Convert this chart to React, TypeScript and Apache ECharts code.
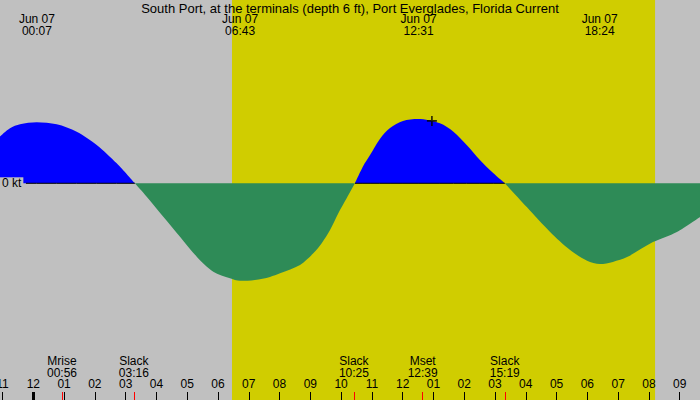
import React, { useEffect, useRef } from "react";
import * as echarts from "echarts";

// Time in hours after midnight, Jun 07 (negative = Jun 06)
const HOURS = [
  -1.082, -0.757, -0.432, 0.11, 0.76, 1.41, 2.06, 2.71, 3.3, 3.684, 4.224, 4.766, 5.31, 5.848, 6.39,
  6.716, 7.2, 7.69, 8.015, 8.665, 9.097, 9.37, 9.64, 9.91, 10.18, 10.45, 10.71, 10.94, 11.26, 11.59,
  12.01, 12.5, 13.21, 13.65, 14.08, 14.51, 14.94, 15.32, 16.04, 16.79, 17.44, 17.99, 18.41, 18.83,
  19.29, 20.13, 20.91, 21.66,
];
// Current speed in knots (flood positive, ebb negative)
const CURRENT_KT = [
  0.78, 0.917, 0.983, 1.017, 0.983, 0.86, 0.64, 0.333, 0, -0.223, -0.557, -0.89, -1.223, -1.473, -1.583,
  -1.625, -1.61, -1.56, -1.5, -1.36, -1.167, -1.0, -0.78, -0.5, -0.25, 0, 0.28, 0.47, 0.74, 0.92,
  1.04, 1.07, 1.0, 0.86, 0.64, 0.39, 0.17, 0, -0.4, -0.81, -1.11, -1.29, -1.345, -1.31,
  -1.23, -0.98, -0.81, -0.56,
];

const TITLE = "South Port, at the terminals (depth 6 ft), Port Everglades, Florida Current";
const DATE_LABEL = "Jun 07";
const MAX_TIMES = [0 + 7 / 60, 6 + 43 / 60, 12 + 31 / 60, 18 + 24 / 60];
const EVENT_NAMES = ["Mrise", "Slack", "Slack", "Mset", "Slack"];
const EVENT_TIMES = [0 + 56 / 60, 3 + 16 / 60, 10 + 25 / 60, 12 + 39 / 60, 15 + 19 / 60];
const HOUR_TICKS = [-1, 0, 1, 2, 3, 4, 5, 6, 7, 8, 9, 10, 11, 12, 13, 14, 15, 16, 17, 18, 19, 20, 21];
const MIDNIGHT = [0];
const SUNRISE = 6.455;
const SUNSET = 20.2;
const NOW_MARK = [12.95, 1.04];
const ZERO_LINE_START = -0.24;

const X_MIN = -1.082;
const X_MAX = 21.66;
const Y_MAX = 3.055;
const Y_MIN = -3.612;

const FONT = "'Liberation Sans', Arial, sans-serif";

function pad(n: number) {
  return n < 10 ? "0" + n : "" + n;
}
function fmtClock(h: number) {
  const m = Math.round(h * 60);
  const hh = Math.floor(m / 60);
  return pad(hh) + ":" + pad(m - hh * 60);
}
function fmtHour(v: number) {
  let r = ((Math.round(v) % 12) + 12) % 12;
  if (r === 0) r = 12;
  return pad(r);
}
function findIdx(arr: number[], v: number) {
  let best = 0;
  for (let i = 0; i < arr.length; i++) if (Math.abs(arr[i] - v) < Math.abs(arr[best] - v)) best = i;
  return best;
}

export default function App() {
  const ref = useRef<HTMLDivElement>(null);
  useEffect(() => {
    if (!ref.current) return;
    const chart = echarts.init(ref.current, undefined, { renderer: "svg" });
    const flood = HOURS.map((h, i) => [h, CURRENT_KT[i] >= 0 ? CURRENT_KT[i] : null]);
    const ebb = HOURS.map((h, i) => [h, CURRENT_KT[i] <= 0 ? CURRENT_KT[i] : null]);
    // zero reference line, visible beneath the flood areas only (ebb covers it in the reference)
    const zeroLine: any[] = [[ZERO_LINE_START, 0]];
    HOURS.forEach((h, i) => {
      if (h > ZERO_LINE_START) zeroLine.push([h, CURRENT_KT[i] >= 0 ? 0 : null]);
    });
    const baseX = {
      type: "value",
      min: X_MIN,
      max: X_MAX,
      gridIndex: 0,
      z: 10,
      axisLine: { show: false, onZero: false },
      splitLine: { show: false },
    };
    chart.setOption({
      animation: false,
      backgroundColor: "#c0c0c0",
      textStyle: { fontFamily: FONT },
      title: {
        text: TITLE,
        left: "center",
        top: 2,
        padding: 0,
        z: 10,
        textStyle: { fontSize: 13, fontWeight: "normal", color: "#000", fontFamily: FONT },
      },
      grid: { left: 0, right: 0, top: 0, bottom: 0, containLabel: false, outerBoundsMode: "none" },
      xAxis: [
        {
          ...baseX,
          position: "bottom",
          axisTick: { show: true, inside: true, length: 8, customValues: HOUR_TICKS, lineStyle: { color: "#000", width: 1 } },
          axisLabel: {
            show: true,
            inside: true,
            margin: 10,
            customValues: HOUR_TICKS,
            formatter: (v: number) => fmtHour(v),
            color: "#000",
            fontSize: 12,
            fontFamily: FONT,
          },
        },
        {
          ...baseX,
          position: "bottom",
          axisTick: { show: true, inside: true, length: 8, customValues: EVENT_TIMES, lineStyle: { color: "#ff0000", width: 1 } },
          axisLabel: {
            show: true,
            inside: true,
            margin: 21,
            customValues: EVENT_TIMES,
            formatter: (v: number) => {
              const i = findIdx(EVENT_TIMES, v);
              return EVENT_NAMES[i] + "\n" + fmtClock(EVENT_TIMES[i]);
            },
            color: "#000",
            fontSize: 12,
            lineHeight: 12,
            fontFamily: FONT,
          },
        },
        {
          ...baseX,
          position: "bottom",
          axisTick: { show: true, inside: true, length: 8, customValues: MIDNIGHT, lineStyle: { color: "#000", width: 3 } },
          axisLabel: { show: false },
        },
        {
          ...baseX,
          position: "top",
          axisTick: { show: false },
          axisLabel: {
            show: true,
            inside: true,
            margin: 13,
            customValues: MAX_TIMES,
            formatter: (v: number) => DATE_LABEL + "\n" + fmtClock(MAX_TIMES[findIdx(MAX_TIMES, v)]),
            color: "#000",
            fontSize: 12,
            lineHeight: 12,
            fontFamily: FONT,
          },
        },
      ],
      yAxis: {
        type: "value",
        min: Y_MIN,
        max: Y_MAX,
        z: 10,
        axisLine: { show: false, onZero: false },
        splitLine: { show: false },
        axisTick: { show: false },
        axisLabel: {
          show: true,
          inside: true,
          margin: 0,
          customValues: [0],
          formatter: () => "0 kt",
          color: "#000",
          fontSize: 12,
          fontFamily: FONT,
          backgroundColor: "#c0c0c0",
          padding: [0, 2, 0, 2],
          lineHeight: 12,
        },
      },
      series: [
        {
          type: "line",
          data: [],
          z: 0,
          silent: true,
          markArea: {
            silent: true,
            itemStyle: { color: "#d0cd00", opacity: 1 },
            data: [[{ xAxis: SUNRISE }, { xAxis: SUNSET }]],
          },
        },
        {
          type: "line",
          data: ebb,
          smooth: 0.3,
          connectNulls: false,
          symbol: "none",
          z: 2,
          lineStyle: { width: 0 },
          areaStyle: { color: "#2e8b57", opacity: 1 },
          silent: true,
        },
        {
          type: "line",
          data: flood,
          smooth: 0.3,
          connectNulls: false,
          symbol: "none",
          z: 3,
          lineStyle: { width: 0 },
          areaStyle: { color: "#0000ff", opacity: 1 },
          silent: true,
        },
        {
          type: "line",
          data: zeroLine,
          connectNulls: false,
          symbol: "none",
          z: 4,
          lineStyle: { color: "#000", width: 1 },
          silent: true,
        },
        {
          type: "scatter",
          data: [NOW_MARK],
          symbol: "path://M0,4 L9,4 L9,5.5 L0,5.5 Z M3.75,0 L5.25,0 L5.25,9.5 L3.75,9.5 Z",
          symbolSize: 10,
          itemStyle: { color: "#000" },
          z: 5,
          silent: true,
        },
      ],
    });
    return () => chart.dispose();
  }, []);
  return <div ref={ref} style={{ position: "absolute", left: 0, top: 0, width: 700, height: 400 }} />;
}
